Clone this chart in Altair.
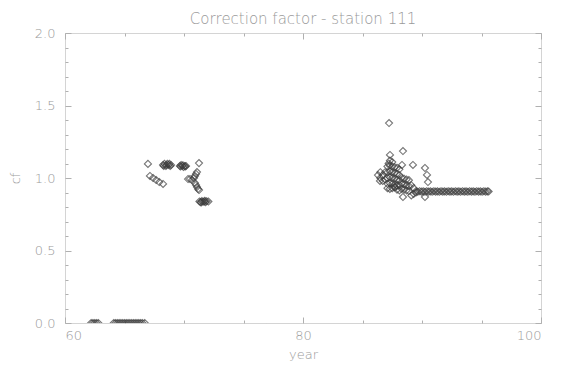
import altair as alt
import pandas as pd

# ---- data ----
zero_years = [62.2, 62.35, 62.5, 62.65, 62.8,
              64.1, 64.25, 64.4, 64.55, 64.7, 64.85, 65.0, 65.15, 65.3, 65.45,
              65.6, 65.75, 65.9, 66.05, 66.2, 66.35, 66.5, 66.7]
zero_vals = [0.0] * len(zero_years)

c1_years = [66.97, 71.26,
            67.14, 67.40, 67.66, 67.92, 68.24,
            68.24, 68.36, 68.48, 68.60, 68.72, 68.84, 68.91, 68.30, 68.54, 68.78,
            69.66, 69.76, 69.86, 69.96, 70.06, 70.17, 69.71, 69.91, 70.11,
            71.09, 71.01, 70.92, 70.84, 70.34, 70.50, 70.67, 70.92, 71.01, 71.09,
            71.18, 71.26,
            71.30, 71.40, 71.50, 71.60, 71.70, 71.80, 71.90, 72.05, 71.45, 71.75]
c1_vals = [1.097, 1.103,
           1.014, 1.000, 0.986, 0.972, 0.959,
           1.090, 1.097, 1.083, 1.097, 1.090, 1.083, 1.090, 1.083, 1.090, 1.097,
           1.083, 1.090, 1.083, 1.076, 1.083, 1.083, 1.079, 1.088, 1.079,
           1.041, 1.028, 1.014, 1.000, 0.993, 0.993, 0.986, 0.966, 0.952, 0.938,
           0.924, 0.917,
           0.838, 0.834, 0.841, 0.836, 0.838, 0.834, 0.840, 0.838, 0.832, 0.843]

c2_years = [87.23, 88.40, 87.31, 88.32, 89.24, 90.25, 90.42, 90.50, 88.40, 90.25,
            87.73, 86.47,
            86.30, 86.50, 86.50, 86.70, 86.90, 86.90, 86.70,
            87.30, 87.50, 87.20,
            87.10, 87.30, 87.50, 87.70, 87.90, 88.10,
            87.10, 87.30, 87.50, 87.70, 87.90, 88.10,
            87.10, 87.30, 87.50, 87.70, 87.90, 88.10,
            87.10, 87.30, 87.50, 87.70, 87.90, 88.10,
            87.10, 87.30, 87.50, 87.70, 87.90, 88.10,
            88.30, 88.50, 88.70, 88.90, 88.30, 88.50, 88.70, 88.90,
            88.30, 88.50, 88.70, 88.90,
            89.10, 89.30, 89.10, 89.30, 89.50]
c2_vals = [1.379, 1.186, 1.159, 1.090, 1.090, 1.069, 1.021, 0.972, 0.869, 0.869,
           0.938, 0.980,
           1.020, 1.000, 1.040, 1.020, 0.990, 1.040, 0.980,
           1.120, 1.110, 1.100,
           1.080, 1.085, 1.080, 1.075, 1.070, 1.060,
           1.040, 1.045, 1.040, 1.035, 1.030, 1.020,
           1.000, 1.005, 1.000, 0.995, 0.990, 0.985,
           0.960, 0.965, 0.960, 0.955, 0.950, 0.950,
           0.930, 0.925, 0.930, 0.935, 0.920, 0.915,
           1.000, 0.995, 0.990, 0.985, 0.960, 0.955, 0.950, 0.945,
           0.925, 0.920, 0.915, 0.910,
           0.950, 0.930, 0.880, 0.890, 0.900]

tail_years = [89.50, 89.65, 89.80, 89.95, 90.10, 90.25, 90.40, 90.55, 90.70, 90.85,
              91.00, 91.15, 91.30, 91.45, 91.60, 91.75, 91.90, 92.05, 92.20, 92.35,
              92.50, 92.65, 92.80, 92.95, 93.10, 93.25, 93.40, 93.55, 93.70, 93.85,
              94.00, 94.15, 94.30, 94.45, 94.60, 94.75, 94.90, 95.05, 95.20, 95.35,
              95.50, 95.60]
tail_vals = [0.910, 0.905, 0.909, 0.906, 0.908, 0.905, 0.909, 0.906, 0.908, 0.905,
             0.909, 0.906, 0.908, 0.905, 0.909, 0.906, 0.908, 0.905, 0.909, 0.906,
             0.908, 0.905, 0.909, 0.906, 0.908, 0.905, 0.909, 0.906, 0.908, 0.905,
             0.909, 0.906, 0.908, 0.905, 0.909, 0.906, 0.908, 0.905, 0.909, 0.906,
             0.908, 0.907]

x_major = [60, 80, 100]
x_ticks = [60, 65, 70, 75, 80, 85, 90, 95, 100]
y_major = [0.0, 0.5, 1.0, 1.5, 2.0]
y_ticks = [round(i * 0.1, 1) for i in range(21)]

title_text = "Correction factor - station 111"

years = zero_years + c1_years + c2_years + tail_years
vals = zero_vals + c1_vals + c2_vals + tail_vals
df = pd.DataFrame({"year": years, "cf": vals})

W, H = 476, 290
LAB = "#9a9a9a"
FONT = "DejaVu Sans"

xs = alt.Scale(domain=[60, 100], nice=False, zero=False)
ys = alt.Scale(domain=[0, 2], nice=False, zero=False)

base = alt.Chart(df)

points = base.mark_point(shape="diamond", filled=False, size=50, clip=True,
                         stroke="#3c3c3c", strokeWidth=1.1).encode(
    x=alt.X("year:Q", scale=xs,
            axis=alt.Axis(values=x_major, format="d", title="year", ticks=False,
                          domain=False, grid=False, labelPadding=6,
                          labelFont=FONT, labelFontSize=13, labelColor=LAB,
                          labelFontWeight=200,
                          titleFont=FONT, titleFontSize=13, titleColor=LAB,
                          titleFontWeight=200, titlePadding=6)),
    y=alt.Y("cf:Q", scale=ys,
            axis=alt.Axis(values=y_major, format=".1f", title="cf", ticks=False,
                          domain=False, grid=False, labelPadding=10,
                          labelFont=FONT, labelFontSize=13, labelColor=LAB,
                          labelFontWeight=200,
                          titleFont=FONT, titleFontSize=13, titleColor=LAB,
                          titleFontWeight=200, titlePadding=12)),
)

x_tick_size = {"condition": {"test": "datum.value % 20 === 0", "value": 6}, "value": 3}
y_tick_size = {"condition": {"test": "abs(datum.value * 2 - round(datum.value * 2)) < 0.001",
                             "value": 6}, "value": 3}

def tick_axis(orient, offset, values, size):
    return alt.Axis(orient=orient, offset=offset, values=values, labels=False,
                    domain=False, grid=False, title="", ticks=True,
                    tickSize=size, tickColor="#b0b0b0", tickWidth=1)

ticks_a = base.mark_point(opacity=0).encode(
    x=alt.X("year:Q", scale=xs, axis=tick_axis("top", -H, x_ticks, x_tick_size)),
    y=alt.Y("cf:Q", scale=ys, axis=tick_axis("right", -W, y_ticks, y_tick_size)),
)
ticks_b = base.mark_point(opacity=0).encode(
    x=alt.X("year:Q", scale=xs, axis=tick_axis("bottom", -H, x_ticks, x_tick_size)),
    y=alt.Y("cf:Q", scale=ys, axis=tick_axis("left", -W, y_ticks, y_tick_size)),
)

chart = alt.layer(points, ticks_a, ticks_b).resolve_scale(
    x="independent", y="independent"
).properties(
    width=W, height=H,
    title=alt.TitleParams(title_text, font=FONT, fontSize=15, color=LAB,
                          fontWeight=200, anchor="middle", offset=0),
    autosize=alt.AutoSizeParams(type="none"),
    padding={"left": 57, "top": 25, "right": 17, "bottom": 44},
).configure_view(stroke="#a8a8a8", strokeDash=[1, 1], strokeWidth=1)

chart.save("out.html", embed_options={"renderer": "svg", "actions": False})
